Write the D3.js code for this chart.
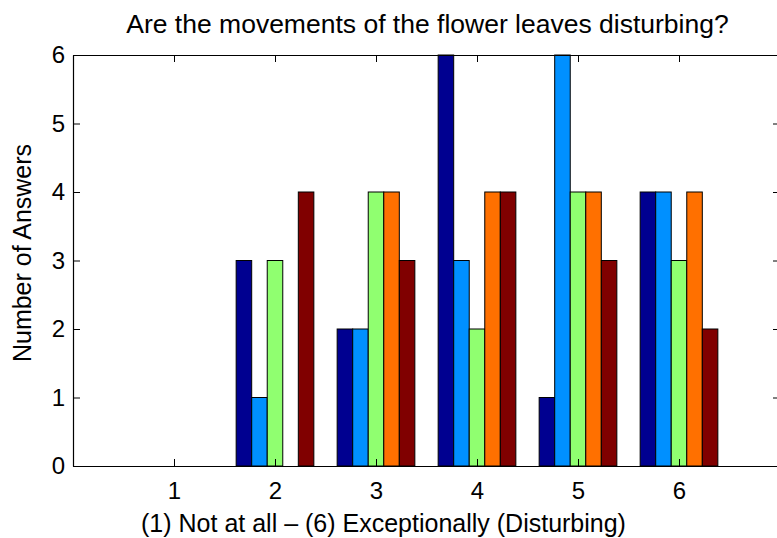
<!DOCTYPE html>
<html><head><meta charset="utf-8">
<script src="https://cdn.jsdelivr.net/npm/d3@7"></script>
<style>body{margin:0;background:#fff;overflow:hidden}svg{display:block}text{font-family:"Liberation Sans",Arial,sans-serif}</style>
</head><body>
<script>
const categories = [1, 2, 3, 4, 5, 6];
const seriesNames = ["s1", "s2", "s3", "s4", "s5"];
const seriesValues = [
  [0, 3, 2, 6, 1, 4],
  [0, 1, 2, 3, 6, 4],
  [0, 3, 4, 2, 4, 3],
  [0, 0, 4, 4, 4, 4],
  [0, 4, 3, 4, 3, 2]
];
const seriesColors = ["#000090", "#0090ff", "#90ff70", "#ff7000", "#800000"];
const yTicks = [0, 1, 2, 3, 4, 5, 6];
const title = "Are the movements of the flower leaves disturbing?";
const xLabel = "(1) Not at all \u2013 (6) Exceptionally (Disturbing)";
const yLabel = "Number of Answers";

(function () {
const W = 777, H = 538;
const mL = 73, mR = 780, mT = 55, mB = 466;
const FONT = '"Liberation Sans",Arial,sans-serif';
const svg = d3.select("body").append("svg").attr("width", W).attr("height", H);

const x = d3.scaleLinear().domain([0, 7]).range([mL, mR]);
const y = d3.scaleLinear().domain([0, 6]).range([mB, mT]);
const step = x(1) - x(0);
const groupW = step * Math.min(0.8, 5 / (5 + 1.5));
const barW = groupW / seriesNames.length;

seriesValues.forEach((vals, si) => {
  svg.append("g").selectAll("rect").data(vals).join("rect")
    .attr("x", (d, i) => x(categories[i]) - groupW / 2 + si * barW)
    .attr("y", d => y(d))
    .attr("width", barW)
    .attr("height", d => y(0) - y(d))
    .attr("fill", seriesColors[si])
    .attr("stroke", "#000")
    .attr("stroke-width", 1);
});

const tl = 7;
const fmt = d3.format("d");
const axB = svg.append("g").attr("transform", `translate(0,${mB})`)
  .call(d3.axisBottom(x).tickValues(categories).tickFormat(fmt).tickSizeInner(-tl).tickSizeOuter(0).tickPadding(16));
const axT = svg.append("g").attr("transform", `translate(0,${mT})`)
  .call(d3.axisTop(x).tickValues(categories).tickSizeInner(-tl).tickSizeOuter(0).tickFormat(""));
const axL = svg.append("g").attr("transform", `translate(${mL},0)`)
  .call(d3.axisLeft(y).tickValues(yTicks).tickFormat(fmt).tickSizeInner(-tl).tickSizeOuter(0).tickPadding(8));
const axR = svg.append("g").attr("transform", `translate(${mR},0)`)
  .call(d3.axisRight(y).tickValues(yTicks).tickSizeInner(-tl).tickSizeOuter(0).tickFormat(""));
[axB, axT, axL, axR].forEach(a => {
  a.attr("font-size", 24).attr("font-family", FONT);
  a.selectAll("path").attr("stroke", "#000").attr("stroke-width", 1.2);
  a.selectAll("line").attr("stroke", "#000");
  a.selectAll("text").attr("fill", "#000");
});

svg.append("text").attr("x", 427.5).attr("y", 33).attr("text-anchor", "middle")
  .attr("font-size", 26.5).attr("font-family", FONT).text(title);
svg.append("text").attr("x", 383.5).attr("y", 532).attr("text-anchor", "middle")
  .attr("font-size", 25).attr("font-family", FONT).text(xLabel);
svg.append("text").attr("transform", "translate(31,253) rotate(-90)").attr("text-anchor", "middle")
  .attr("font-size", 25).attr("font-family", FONT).text(yLabel);
})();
</script>
</body></html>
